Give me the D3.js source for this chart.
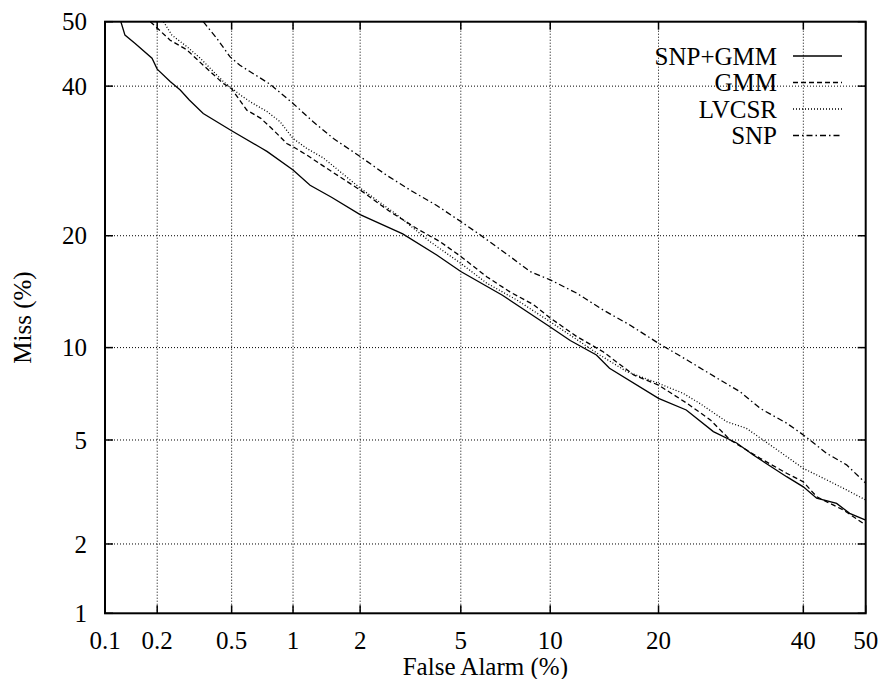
<html>
<head>
<style>
body { margin: 0; background: #fff; }
text { font-family: "Liberation Serif", "Times New Roman", serif; font-size: 25px; fill: #000; }
.grid line { stroke: #000; stroke-width: 1; stroke-dasharray: 1,2; }
.curve { fill: none; stroke: #000; stroke-width: 1.3; }
</style>
</head>
<body>
<svg width="880" height="679" id="chart"></svg>
<script src="https://cdn.jsdelivr.net/npm/d3@7"></script>
<script>
// tick labels (percent)
var xTicks = [0.1, 0.2, 0.5, 1, 2, 5, 10, 20, 40, 50];
var yTicks = [1, 2, 5, 10, 20, 40, 50];

// series: false alarm % / miss %
var snpGmmFA = [0.124, 0.131, 0.15, 0.187, 0.2, 0.236, 0.268, 0.3, 0.356, 0.5, 0.7, 0.75, 1, 1.2, 1.5, 2, 3, 4.07, 5, 7, 10, 11.5, 13.7, 14.9, 20, 23.3, 26.8, 30, 32.4, 37.4, 40, 42.1, 45.3, 47.4, 50];
var snpGmmMiss = [50, 47.9, 46.6, 44.3, 42.6, 40.7, 39.4, 37.9, 35.9, 33.4, 31.0, 30.5, 28.0, 26.0, 24.5, 22.4, 20.2, 17.95, 16.3, 14.1, 11.5, 10.5, 9.5, 8.65, 6.93, 6.34, 5.35, 4.88, 4.42, 3.68, 3.37, 3.05, 2.91, 2.66, 2.50];

var gmmFA = [0.183, 0.2, 0.236, 0.291, 0.356, 0.453, 0.5, 0.597, 0.7, 0.806, 0.934, 1, 1.16, 1.43, 2, 2.67, 3.41, 4.19, 5, 6.18, 7.42, 8.85, 10, 12.0, 14.3, 17.3, 20, 23.4, 26.4, 29.1, 33.4, 37.4, 40, 42.1, 46.4, 50];
var gmmMiss = [50, 49.0, 47.1, 45.6, 43.2, 40.4, 39.6, 36.4, 35.2, 33.5, 31.6, 31.15, 30.0, 28.2, 25.4, 22.75, 20.8, 19.35, 17.8, 15.8, 14.4, 13.3, 12.2, 10.8, 9.72, 8.24, 7.65, 6.67, 5.87, 5.0, 4.30, 3.79, 3.52, 3.09, 2.74, 2.39];

var lvcsrFA = [0.217, 0.241, 0.291, 0.343, 0.453, 0.551, 0.62, 0.75, 0.868, 1, 1.16, 1.38, 2, 2.84, 3.84, 5, 6.18, 7.81, 10, 14.0, 16.6, 20, 22.9, 25.0, 28.6, 31.4, 35.3, 40, 43.7, 46.9, 50];
var lvcsrMiss = [50, 47.9, 46.1, 44.3, 40.7, 38.7, 37.65, 36.2, 34.7, 32.3, 30.9, 29.6, 25.65, 22.4, 19.35, 17.1, 15.2, 13.7, 11.9, 9.5, 8.44, 7.75, 7.2, 6.67, 5.79, 5.49, 4.73, 3.95, 3.58, 3.28, 3.0];

var snpFA = [0.356, 0.419, 0.491, 0.551, 0.776, 1, 1.24, 1.53, 2, 2.58, 3.21, 4.07, 5, 5.86, 7.42, 8.63, 10, 12.0, 14.3, 16.9, 20, 23.4, 27.3, 30.5, 33.4, 37.4, 40, 43.7, 46.9, 50];
var snpMiss = [50, 47.4, 44.5, 43.2, 40.3, 37.4, 34.7, 32.3, 29.8, 27.3, 25.4, 23.5, 21.6, 20.1, 17.8, 16.3, 15.5, 14.3, 12.85, 11.65, 10.3, 9.17, 8.05, 7.28, 6.42, 5.72, 5.21, 4.48, 4.07, 3.48];

var seriesNames = ["SNP+GMM", "GMM", "LVCSR", "SNP"];
var seriesFA = [snpGmmFA, gmmFA, lvcsrFA, snpFA];
var seriesMiss = [snpGmmMiss, gmmMiss, lvcsrMiss, snpMiss];
var dashes = ["none", "5,3", "1,2", "6,3,1.5,3"];

// inverse normal cdf (Acklam)
function probit(p) {
	var a = [-39.69683028665376, 220.9460984245205, -275.9285104469687, 138.3577518672690, -30.66479806614716, 2.506628277459239];
	var b = [-54.47609879822406, 161.5858368580409, -155.6989798598866, 66.80131188771972, -13.28068155288572];
	var c = [-0.007784894002430293, -0.3223964580411365, -2.400758277161838, -2.549732539343734, 4.374664141464968, 2.938163982698783];
	var d = [0.007784695709041462, 0.3224671290700398, 2.445134137142996, 3.754408661907416];
	var q, r;
	if (p < 0.02425) {
		q = Math.sqrt(-2 * Math.log(p));
		return (((((c[0]*q+c[1])*q+c[2])*q+c[3])*q+c[4])*q+c[5]) / ((((d[0]*q+d[1])*q+d[2])*q+d[3])*q+1);
	}
	if (p <= 1 - 0.02425) {
		q = p - 0.5; r = q * q;
		return (((((a[0]*r+a[1])*r+a[2])*r+a[3])*r+a[4])*r+a[5])*q / (((((b[0]*r+b[1])*r+b[2])*r+b[3])*r+b[4])*r+1);
	}
	q = Math.sqrt(-2 * Math.log(1 - p));
	return -(((((c[0]*q+c[1])*q+c[2])*q+c[3])*q+c[4])*q+c[5]) / ((((d[0]*q+d[1])*q+d[2])*q+d[3])*q+1);
}

var svg = d3.select("#chart");
var plotL = 105, plotR = 865.7, plotT = 21.7, plotB = 613.3;

var xs = d3.scaleLinear().domain([probit(0.001), probit(0.5)]).range([plotL, plotR]);
var ys = d3.scaleLinear().domain([probit(0.01), probit(0.5)]).range([plotB, plotT]);
var fx = v => xs(probit(v / 100));
var fy = v => ys(probit(v / 100));

// grid
var grid = svg.append("g").attr("class", "grid");
grid.selectAll(".gx").data(xTicks.slice(1, -1)).enter().append("line")
	.attr("x1", fx).attr("x2", fx).attr("y1", plotT).attr("y2", plotB);
grid.selectAll(".gy").data(yTicks.slice(1, -1)).enter().append("line")
	.attr("y1", fy).attr("y2", fy).attr("x1", plotL).attr("x2", plotR);

// ticks on all sides
var tk = svg.append("g").attr("stroke", "#000").attr("stroke-width", 1.5);
xTicks.forEach(function(t) {
	tk.append("line").attr("x1", fx(t)).attr("x2", fx(t)).attr("y1", plotB).attr("y2", plotB - 8);
	tk.append("line").attr("x1", fx(t)).attr("x2", fx(t)).attr("y1", plotT).attr("y2", plotT + 8);
});
yTicks.forEach(function(t) {
	tk.append("line").attr("y1", fy(t)).attr("y2", fy(t)).attr("x1", plotL).attr("x2", plotL + 8);
	tk.append("line").attr("y1", fy(t)).attr("y2", fy(t)).attr("x1", plotR).attr("x2", plotR - 8);
});

// tick labels
svg.append("g").selectAll("text").data(xTicks).enter().append("text")
	.attr("x", fx).attr("y", 649).attr("text-anchor", "middle")
	.text(d => d);
svg.append("g").selectAll("text").data(yTicks).enter().append("text")
	.attr("x", 87).attr("y", fy).attr("dy", "0.35em").attr("text-anchor", "end")
	.text(d => d);

// curves
var line = d3.line().x(d => fx(d[0])).y(d => fy(d[1]));
seriesNames.forEach(function(name, i) {
	var pts = seriesFA[i].map((v, j) => [v, seriesMiss[i][j]]);
	svg.append("path").attr("class", "curve")
		.attr("d", line(pts))
		.attr("stroke-dasharray", dashes[i]);
});

// legend
var lg = svg.append("g");
seriesNames.forEach(function(name, i) {
	var ly = 56 + i * 26.5;
	lg.append("text").attr("x", 777).attr("y", ly).attr("dy", "0.35em")
		.attr("text-anchor", "end").text(name);
	lg.append("line").attr("class", "curve").attr("x1", 793).attr("x2", 842)
		.attr("y1", ly).attr("y2", ly).attr("stroke-dasharray", dashes[i]);
});

// frame
svg.append("rect").attr("x", plotL).attr("y", plotT)
	.attr("width", plotR - plotL).attr("height", plotB - plotT)
	.attr("fill", "none").attr("stroke", "#000").attr("stroke-width", 2);

// axis titles
svg.append("text").attr("x", (plotL + plotR) / 2).attr("y", 675)
	.attr("text-anchor", "middle").text("False Alarm (%)");
svg.append("text").attr("transform", "translate(31," + (plotT + plotB) / 2 + ") rotate(-90)")
	.attr("text-anchor", "middle").text("Miss (%)");
</script>
</body>
</html>
